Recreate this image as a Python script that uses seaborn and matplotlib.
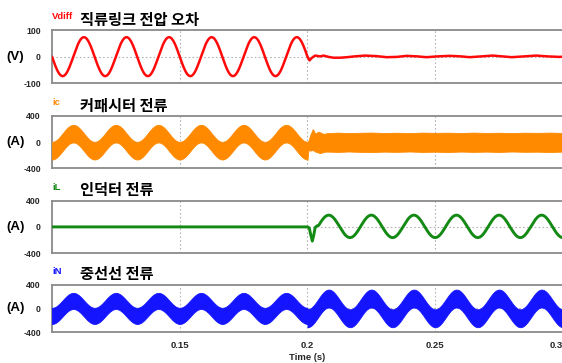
import numpy as np
import matplotlib
matplotlib.use("Agg")
import matplotlib.pyplot as plt
import seaborn as sns

sns.set_theme(style="white")
plt.rcParams["font.family"] = ["Liberation Sans", "Noto Sans CJK KR", "DejaVu Sans"]

# ---------------------------------------------------------------- data
T_RANGE = [0.1, 0.3]          # s
T_SWITCH = 0.2                # s, compensation switched on
F_GRID = 60.0                 # Hz
X_TICKS = [0.15, 0.2, 0.25, 0.3]
X_TICK_LABELS = ["0.15", "0.2", "0.25", "0.3"]
V_GRID = [0.15, 0.2, 0.25]

# DC-link voltage error: sinusoid before switching, residual afterwards
VDIFF_AMP = 73.0
VDIFF_TAIL_T = [0.2000, 0.2008, 0.2018, 0.2030, 0.2050, 0.2063, 0.2083, 0.2102,
                0.2128, 0.2155, 0.2185, 0.2226, 0.2270, 0.2310, 0.2350, 0.2388,
                0.2430, 0.2466, 0.2510, 0.2557, 0.2600, 0.2635, 0.2680, 0.2726,
                0.2765, 0.2800, 0.2850, 0.2896, 0.2940, 0.2987, 0.3000]
VDIFF_TAIL_V = [0, -14, -4, 4, 1, 4, -1, -4, -4, -2, 1, 4, 2, -2, -1, 3,
                1, -2, 1, 3, 1, -2, 1, 4, 1, -2, 1, 4, 1, -1, 0]

# capacitor current: ripple band (centre amplitude, half width) before switching
IC_AMP = 130.0
IC_HALF = 135.0
IC_TAIL_T = [0.2000, 0.2004, 0.2011, 0.2021, 0.2030, 0.2043, 0.2050, 0.2063,
             0.2076, 0.2090, 0.2120, 0.2160, 0.2200, 0.2250, 0.2300, 0.2350,
             0.2400, 0.2450, 0.2500, 0.2550, 0.2600, 0.2650, 0.2700, 0.2750,
             0.2800, 0.2850, 0.2900, 0.2950, 0.3000]
IC_TAIL_HI = [5, 20, 110, 200, 133, 160, 150, 126, 138, 140, 146, 138, 143,
              147, 140, 144, 139, 146, 142, 145, 140, 146, 141, 144, 139, 145,
              142, 146, 141]
IC_TAIL_LO = [-270, -118, -130, -120, -144, -160, -168, -150, -144, -146, -150,
              -143, -148, -152, -145, -149, -143, -150, -146, -151, -144, -149,
              -145, -150, -143, -148, -146, -151, -145]

# inductor current: zero before switching, transient, then sinusoid
IL_AMP = 170.0
IL_OFFSET = 8.0
IL_TRANS_T = [0.1000, 0.2000, 0.2007, 0.2013, 0.2019, 0.2025, 0.2030, 0.2037]
IL_TRANS_V = [0, 0, -15, -120, -215, -120, -10, 15]
IL_SINE_START = 0.2044

# neutral current: ripple band, before / after switching
IN_AMP = [125.0, 165.0]
IN_HALF = [135.0, 150.0]

# panel labels
SIGNALS = ["Vdiff", "ic", "iL", "iN"]
TITLES = ["직류링크 전압 오차", "커패시터 전류", "인덕터 전류", "중선선 전류"]
UNITS = ["(V)", "(A)", "(A)", "(A)"]
LIMITS = [100, 400, 400, 400]
COLORS = ["#ff0a0a", "#ff8a00", "#138a13", "#1414ff"]

# ---------------------------------------------------------------- signals
w = 2 * np.pi * F_GRID
t_pre = np.linspace(T_RANGE[0], T_SWITCH, 2001)
t_post = np.linspace(T_SWITCH, T_RANGE[1], 2001)

vdiff_t = np.concatenate([t_pre[:-1], VDIFF_TAIL_T])
vdiff_v = np.concatenate([-VDIFF_AMP * np.sin(w * t_pre[:-1]), VDIFF_TAIL_V])

ic_c = -IC_AMP * np.cos(w * t_pre[:-1])
ic_t = np.concatenate([t_pre[:-1], IC_TAIL_T])
ic_hi = np.concatenate([ic_c + IC_HALF, IC_TAIL_HI])
ic_lo = np.concatenate([ic_c - IC_HALF, IC_TAIL_LO])

t_il = np.linspace(IL_SINE_START, T_RANGE[1], 1601)
il_t = np.concatenate([IL_TRANS_T, t_il])
il_v = np.concatenate([IL_TRANS_V, -IL_AMP * np.cos(w * t_il) + IL_OFFSET])

in_t = np.concatenate([t_pre, t_post])
in_c = np.concatenate([-IN_AMP[0] * np.cos(w * t_pre), -IN_AMP[1] * np.cos(w * t_post)])
in_h = np.concatenate([np.full_like(t_pre, IN_HALF[0]), np.full_like(t_post, IN_HALF[1])])

# ---------------------------------------------------------------- figure
W, H = 562, 363
fig = plt.figure(figsize=(W / 100, H / 100), dpi=100)
fig.patch.set_facecolor("white")

# pixel boxes (top, bottom) of each panel
boxes = [(30, 83.3), (116, 168.3), (200.5, 253.3), (284.5, 332.3)]
x0, x1 = 52.0, 562.9

axes = []
for top, bot in boxes:
    ax = fig.add_axes([x0 / W, 1 - bot / H, (x1 - x0) / W, (bot - top) / H])
    axes.append(ax)

for i, ax in enumerate(axes):
    lim = LIMITS[i]
    ax.set_xlim(*T_RANGE)
    ax.set_ylim(-lim, lim)
    ax.set_facecolor("white")
    for xv in V_GRID:
        ax.axvline(xv, color="#b4b4b4", lw=0.8, ls=(0, (1.5, 2)), zorder=1)
    ax.axhline(0, color="#b4b4b4", lw=0.8, ls=(0, (1.5, 2)), zorder=1)
    for s in ax.spines.values():
        s.set_color("#8a8a8a")
        s.set_linewidth(1.3)
    ax.set_yticks([lim, 0, -lim])
    ax.set_yticklabels([str(lim), "0", str(-lim)], fontsize=6.3, fontweight="bold")
    ax.tick_params(axis="y", length=0, pad=8)
    ax.set_xticks(X_TICKS)
    if i == 3:
        ax.set_xticklabels(X_TICK_LABELS, fontsize=6.8, fontweight="bold")
        ax.tick_params(axis="x", length=0, pad=6)
        ax.get_xticklabels()[-1].set_horizontalalignment("right")
    else:
        ax.set_xticklabels([])
        ax.tick_params(axis="x", length=0)

    top, bot = boxes[i]
    ymid = 1 - (top + bot) / 2 / H
    fig.text(15.5 / W, ymid, UNITS[i], ha="center", va="center",
             fontsize=9.5, fontweight="bold", color="black")
    fig.text(52 / W, 1 - (top - 13.5) / H, SIGNALS[i], ha="left", va="center",
             fontsize=6.8, fontweight="bold", color=COLORS[i])
    fig.text(80 / W, 1 - (top - 10.5) / H, TITLES[i], ha="left", va="center",
             fontsize=11, fontweight="bold",
             family=["Noto Sans CJK KR", "DejaVu Sans"], color="black")

sns.lineplot(x=vdiff_t, y=vdiff_v, ax=axes[0], color=COLORS[0], lw=1.8,
             estimator=None, sort=False, legend=False, zorder=3)
axes[1].fill_between(ic_t, ic_lo, ic_hi, color=COLORS[1], lw=0.6,
                     edgecolor=COLORS[1], zorder=3)
sns.lineplot(x=il_t, y=il_v, ax=axes[2], color=COLORS[2], lw=2.1,
             estimator=None, sort=False, legend=False, zorder=3)
axes[3].fill_between(in_t, in_c - in_h, in_c + in_h, color=COLORS[3], lw=0.6,
                     edgecolor=COLORS[3], zorder=3)

for ax in axes:
    ax.set_xlabel("")
    ax.set_ylabel("")

fig.text(307.5 / W, 1 - 357.5 / H, "Time (s)", ha="center", va="center",
         fontsize=6.8, fontweight="bold")

fig.savefig("out.png", dpi=100, facecolor="white")
